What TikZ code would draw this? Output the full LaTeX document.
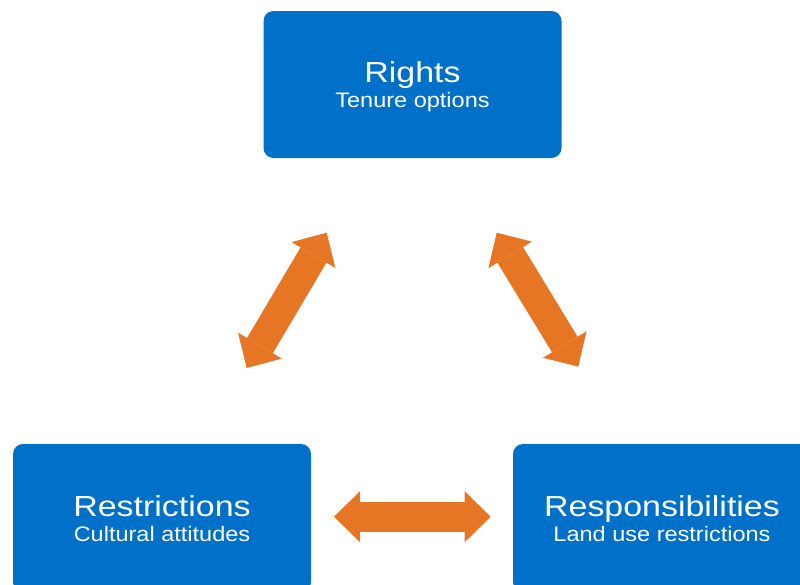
\documentclass[tikz,border=0pt]{standalone}
\usepackage{fontspec}
\setmainfont{Liberation Sans}
\newfontfamily\titlefont[FakeStretch=1.17]{Liberation Sans}
\newfontfamily\subfont[FakeStretch=1.12]{Liberation Sans}
\usetikzlibrary{arrows.meta}
\definecolor{boxblue}{RGB}{0,112,200}
\definecolor{arroworange}{RGB}{231,118,36}
\tikzset{
  box/.style={rectangle, rounded corners=10pt, fill=boxblue, text=white,
    minimum width=298pt, minimum height=147pt, inner sep=0pt,
    align=center, text depth=0pt, font=\fontsize{21pt}{25pt}\selectfont},
  blockarrow/.style={draw=arroworange, line width=30pt,
    {Triangle[length=26pt,width=51pt,line width=0pt]}-{Triangle[length=26pt,width=51pt,line width=0pt]}}
}
\newcommand{\boxtext}[2]{{\titlefont\fontsize{29pt}{25pt}\selectfont #1}\\{\subfont\fontsize{21pt}{25pt}\selectfont #2}}
\begin{document}
\begin{tikzpicture}[x=1pt,y=-1pt]
\useasboundingbox (0,0) rectangle (800,584);
\clip (0,0) rectangle (800,584);
\node[box] (rights) at (412.5,84.5) {\boxtext{Rights}{Tenure options}};
\node[box, minimum height=148pt] (restr) at (162,518) {\boxtext{Restrictions}{Cultural attitudes}};
\node[box, minimum height=148pt] (resp) at (662,518) {\boxtext{Responsibilities}{Land use restrictions}};
\coordinate (l1) at (246.7,368);
\coordinate (l2) at (326.7,232.7);
\coordinate (r1) at (496.7,232.7);
\coordinate (r2) at (578.3,366.7);
\coordinate (b1) at (334,516.7);
\coordinate (b2) at (490.7,516.7);
\draw[blockarrow] (l1) -- (l2);
\draw[blockarrow] (r1) -- (r2);
\draw[blockarrow] (b1) -- (b2);
\end{tikzpicture}
\end{document}
